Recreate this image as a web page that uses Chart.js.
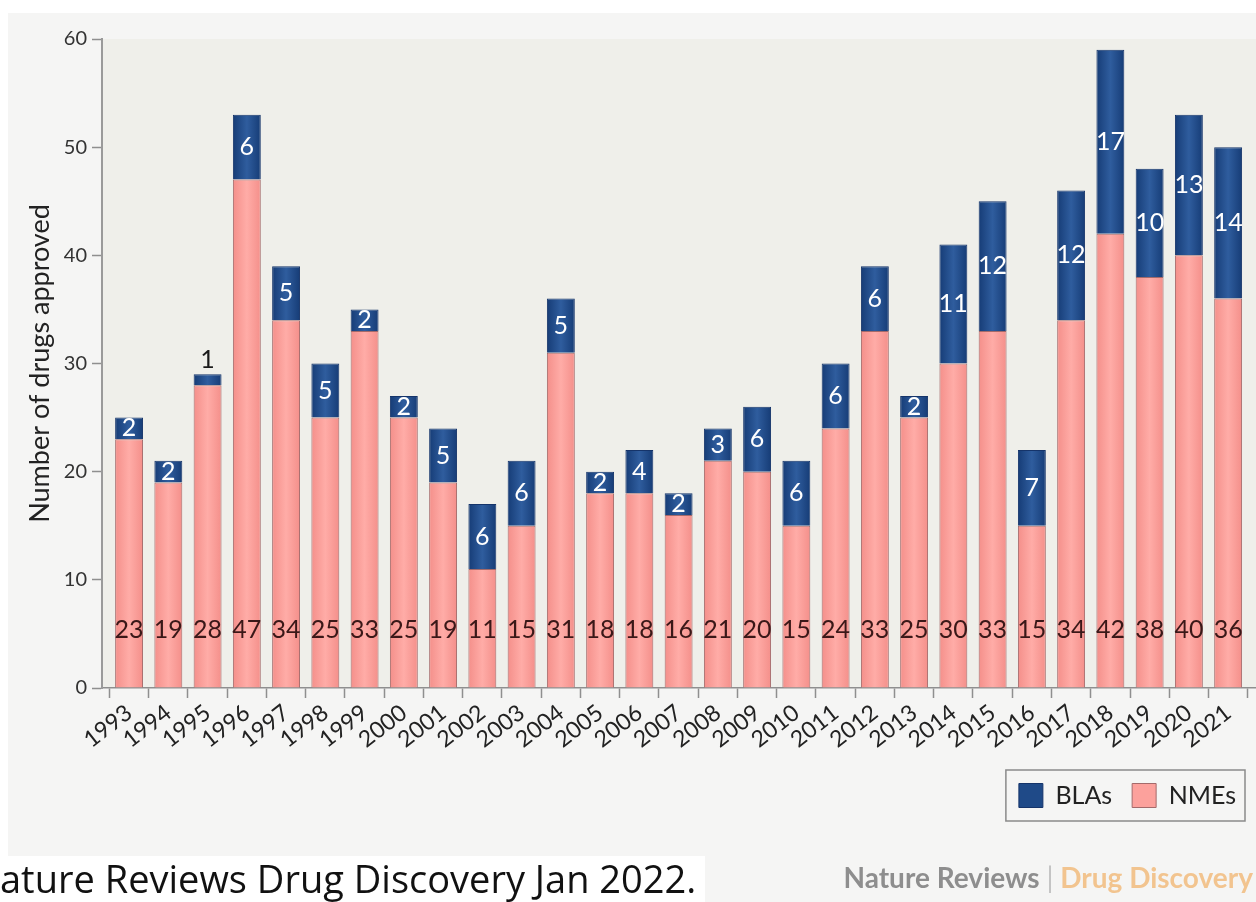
<!DOCTYPE html>
<html>
<head>
<meta charset="utf-8">
<script src="https://cdn.jsdelivr.net/npm/chart.js@4.4.0/dist/chart.umd.min.js"></script>
<style>
  html, body { margin: 0; padding: 0; background: #ffffff; }
  #wrap { position: relative; width: 1256px; height: 902px; overflow: hidden; background: #ffffff; }
  #panel { position: absolute; left: 8px; top: 13px; right: 0; bottom: 0; background: #f5f5f4; }
  #cv { position: absolute; left: 0; top: 0; }
  #logo { position: absolute; right: 3px; top: 861px; font: bold 28px Lato, sans-serif; line-height: 1.2; white-space: nowrap; }
  #logo .a { color: #8e8e8e; }
  #logo .s { color: #c4c4c4; font-weight: normal; }
  #logo .b { color: #f2c48f; }
  #note { position: absolute; left: 0; top: 856px; width: 705px; height: 46px; background: #ffffff;
          font: 38px "Open Sans", sans-serif; color: #111; white-space: nowrap; line-height: 44px; }
</style>
</head>
<body>
<div id="wrap">
  <div id="panel"></div>
  <canvas id="cv" width="1256" height="902"></canvas>
  <div id="logo"><span class="a">Nature Reviews</span> <span class="s">|</span> <span class="b">Drug Discovery</span></div>
  <div id="note">ature Reviews Drug Discovery Jan 2022.</div>
</div>
<script>
// ---- data ----
const years = [1993,1994,1995,1996,1997,1998,1999,2000,2001,2002,2003,2004,2005,2006,2007,
               2008,2009,2010,2011,2012,2013,2014,2015,2016,2017,2018,2019,2020,2021];
const nmes  = [23,19,28,47,34,25,33,25,19,11,15,31,18,18,16,21,20,15,24,33,25,30,33,15,34,42,38,40,36];
const blas  = [2,2,1,6,5,5,2,2,5,6,6,5,2,4,2,3,6,6,6,6,2,11,12,7,12,17,10,13,14];
const yTicks = [0,10,20,30,40,50,60];
const seriesNames = ['NMEs', 'BLAs'];
const yTitle = 'Number of drugs approved';

// ---- styles ----
const FONT = 'Lato, "Open Sans", sans-serif';
const NME_EDGE = '#f48f8a', NME_MID = '#ffaca7', NME_SOLID = '#fca19c', NME_BORDER = '#a46a6a';
const BLA_EDGE = '#163c76', BLA_MID = '#2f5d9e', BLA_SOLID = '#1f4a88', BLA_BORDER = '#15346a';
const PAD_BOTTOM = 84;
const AREA_BOTTOM = 688;
const NME_LABEL_Y = 5.4;

function barGradient(ctx, edge, mid) {
  const chart = ctx.chart;
  const xs = chart.scales.x;
  if (!xs || ctx.type !== 'data' || !ctx.raw) return mid;
  const cx = xs.getPixelForValue(ctx.raw.x);
  const half = 14;
  const g = chart.ctx.createLinearGradient(cx - half, 0, cx + half, 0);
  g.addColorStop(0, edge);
  g.addColorStop(0.5, mid);
  g.addColorStop(1, edge);
  return g;
}

const bgPlugin = {
  id: 'plotBg',
  beforeDraw(chart) {
    const a = chart.chartArea, c = chart.ctx;
    c.save();
    c.fillStyle = '#efefea';
    c.fillRect(a.left, a.top, chart.width - a.left, a.bottom - a.top);
    c.restore();
  }
};

const labelPlugin = {
  id: 'barLabels',
  afterDatasetsDraw(chart) {
    const c = chart.ctx, ys = chart.scales.y, xs = chart.scales.x;
    c.save();
    c.textAlign = 'center';
    c.textBaseline = 'middle';
    c.font = '25px ' + FONT;
    years.forEach((yr, i) => {
      const x = xs.getPixelForValue(yr);
      c.fillStyle = '#3a1818';
      c.fillText(String(nmes[i]), x, ys.getPixelForValue(NME_LABEL_Y));
      if (blas[i] >= 2) {
        c.fillStyle = '#ffffff';
        c.fillText(String(blas[i]), x, ys.getPixelForValue(nmes[i] + blas[i] / 2));
      } else {
        c.fillStyle = '#1a1a1a';
        c.fillText(String(blas[i]), x, ys.getPixelForValue(nmes[i] + blas[i]) - 14);
      }
    });
    c.restore();
  }
};

const legendBoxPlugin = {
  id: 'legendBox',
  afterDraw(chart) {
    const hb = chart.legend && chart.legend.legendHitBoxes;
    if (!hb || !hb.length) return;
    let l = Infinity, r = -Infinity, t = Infinity, b = -Infinity;
    hb.forEach(h => { l = Math.min(l, h.left); r = Math.max(r, h.left + h.width); t = Math.min(t, h.top); b = Math.max(b, h.top + h.height); });
    const c = chart.ctx;
    c.save();
    c.strokeStyle = '#8a8a8a';
    c.lineWidth = 1.5;
    c.strokeRect(l - 13, t - 13, (r - l) + 22, (b - t) + 26);
    c.restore();
  }
};

new Chart(document.getElementById('cv'), {
  type: 'bar',
  data: {
    datasets: [
      {
        label: seriesNames[0],
        data: years.map((yr, i) => ({ x: yr, y: nmes[i] })),
        backgroundColor: ctx => barGradient(ctx, NME_EDGE, NME_MID),
        borderColor: NME_BORDER,
        borderWidth: 1,
        borderSkipped: 'start',
        barPercentage: 0.9,
        categoryPercentage: 0.79
      },
      {
        label: seriesNames[1],
        data: years.map((yr, i) => ({ x: yr, y: blas[i] })),
        backgroundColor: ctx => barGradient(ctx, BLA_EDGE, BLA_MID),
        borderColor: BLA_BORDER,
        borderWidth: 1,
        borderSkipped: 'start',
        barPercentage: 0.9,
        categoryPercentage: 0.79
      }
    ]
  },
  options: {
    responsive: false,
    animation: false,
    devicePixelRatio: 1,
    layout: { padding: { top: 39, right: 0, bottom: PAD_BOTTOM, left: 0 } },
    plugins: {
      tooltip: { enabled: false },
      legend: {
        position: 'bottom',
        align: 'end',
        reverse: true,
        labels: {
          boxWidth: 24,
          boxHeight: 24,
          padding: 20,
          color: '#222',
          font: { family: FONT, size: 25 },
          generateLabels(chart) {
            return chart.data.datasets.map((d, i) => ({
              text: d.label,
              fillStyle: i === 0 ? NME_SOLID : BLA_SOLID,
              strokeStyle: i === 0 ? NME_BORDER : BLA_BORDER,
              lineWidth: 1,
              hidden: false,
              datasetIndex: i,
              fontColor: '#222'
            }));
          }
        }
      }
    },
    scales: {
      x: {
        type: 'linear',
        stacked: true,
        min: 1992.31,
        max: 2021.71,
        offset: false,
        afterBuildTicks(s) { s.ticks = years.map(v => ({ value: v })); },
        afterFit(s) { s.height = Math.max(20, s.chart.height - AREA_BOTTOM - PAD_BOTTOM - (s.chart.legend ? s.chart.legend.height : 0)); },
        border: { display: true, color: '#8f8f8f', width: 1.5 },
        grid: { display: true, drawOnChartArea: false, drawTicks: true, tickLength: 10, tickColor: '#8f8f8f', tickWidth: 1.5 },
        ticks: {
          autoSkip: false,
          minRotation: 38,
          maxRotation: 38,
          padding: 1,
          color: '#222',
          font: { family: FONT, size: 23 },
          callback: v => String(v)
        }
      },
      y: {
        stacked: true,
        min: 0,
        max: 60,
        afterBuildTicks(s) { s.ticks = yTicks.map(v => ({ value: v })); },
        afterFit(s) { s.width = 102; },
        border: { display: true, color: '#9a9a9a', width: 2 },
        grid: { display: true, drawOnChartArea: false, drawTicks: true, tickLength: 10, tickColor: '#8f8f8f', tickWidth: 1.5 },
        ticks: { padding: 5, color: '#333', font: { family: FONT, size: 20 } },
        title: {
          display: true,
          text: yTitle,
          color: '#222',
          font: { family: FONT, size: 27 },
          padding: { top: 24, bottom: 0 }
        }
      }
    }
  },
  plugins: [bgPlugin, labelPlugin, legendBoxPlugin]
});
</script>
</body>
</html>
